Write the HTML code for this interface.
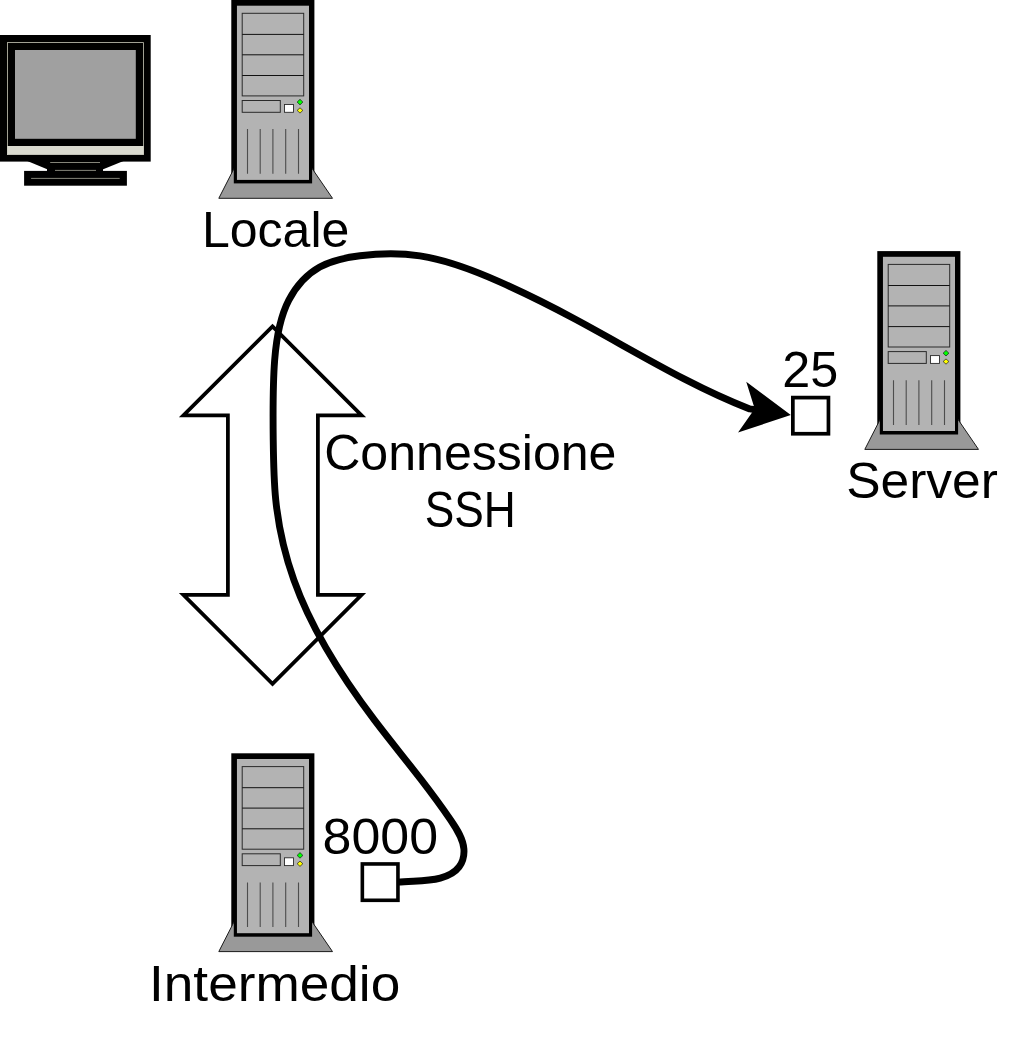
<!DOCTYPE html>
<html><head><meta charset="utf-8"><style>
html,body{margin:0;padding:0;background:#fff;width:1024px;height:1038px;overflow:hidden}
svg{display:block;will-change:transform}
text{font-family:"Liberation Sans",sans-serif;fill:#000}
</style></head><body>
<svg width="1024" height="1038" viewBox="0 0 1024 1038">

<rect x="-5" y="35" width="155.7" height="126.6" fill="#000"/>
<rect x="7.4" y="42.6" width="136" height="112" fill="#000" stroke="#c8c8b8" stroke-width="0.8"/>
<rect x="7.2" y="146" width="136.5" height="8.6" fill="#dadacf"/>
<rect x="15" y="50" width="120.8" height="88.8" fill="#a0a0a0"/>
<polygon points="27.3,161 123.5,161 102.6,169.4 47.8,169.4" fill="#000"/>
<rect x="47" y="161" width="56" height="10.5" fill="#000"/>
<rect x="24.1" y="170.9" width="102.8" height="14.8" fill="#000"/>
<path d="M50.2,162.5H100M55,170.4H96M31.1,178.4H119.7" stroke="#bdbdae" stroke-width="0.7"/>
<g>

<rect x="231.3" y="0" width="83.1" height="174" fill="#000"/>
<polygon points="218.8,198.3 234.2,168.2 311.9,168.2 332.5,198.3" fill="#999" stroke="#1a1a1a" stroke-width="1"/>
<rect x="233.8" y="165" width="78.3" height="18.4" fill="#000"/>
<rect x="236.95" y="5.7" width="72.05" height="174.2" fill="#b3b3b3"/>
<rect x="242.2" y="13.3" width="61.5" height="82.6" fill="none" stroke="#2a2a2a" stroke-width="1"/>
<path d="M242.2,34.4H303.7M242.2,54.8H303.7M242.2,75.5H303.7" stroke="#111" stroke-width="1"/>
<rect x="242.2" y="100.5" width="38.1" height="11.8" fill="none" stroke="#2a2a2a" stroke-width="1"/>
<rect x="284.5" y="104.5" width="9" height="7.8" fill="#fff" stroke="#2a2a2a" stroke-width="0.9"/>
<path d="M300,99.3L302.9,102.1L300,104.9L297.1,102.1Z" fill="#00ff00" stroke="#1a1a1a" stroke-width="0.7"/>
<path d="M300,107.8L302.9,110.4L300,113.1L297.1,110.4Z" fill="#ffff00" stroke="#1a1a1a" stroke-width="0.7"/>
<path d="M247.5,129.1V173.8M260.2,129.1V173.8M272.9,129.1V173.8M285.7,129.1V173.8M298.5,129.1V173.8" stroke="#4d4d4d" stroke-width="1.1"/>
</g>
<g transform="translate(646,251.1)">

<rect x="231.3" y="0" width="83.1" height="174" fill="#000"/>
<polygon points="218.8,198.3 234.2,168.2 311.9,168.2 332.5,198.3" fill="#999" stroke="#1a1a1a" stroke-width="1"/>
<rect x="233.8" y="165" width="78.3" height="18.4" fill="#000"/>
<rect x="236.95" y="5.7" width="72.05" height="174.2" fill="#b3b3b3"/>
<rect x="242.2" y="13.3" width="61.5" height="82.6" fill="none" stroke="#2a2a2a" stroke-width="1"/>
<path d="M242.2,34.4H303.7M242.2,54.8H303.7M242.2,75.5H303.7" stroke="#111" stroke-width="1"/>
<rect x="242.2" y="100.5" width="38.1" height="11.8" fill="none" stroke="#2a2a2a" stroke-width="1"/>
<rect x="284.5" y="104.5" width="9" height="7.8" fill="#fff" stroke="#2a2a2a" stroke-width="0.9"/>
<path d="M300,99.3L302.9,102.1L300,104.9L297.1,102.1Z" fill="#00ff00" stroke="#1a1a1a" stroke-width="0.7"/>
<path d="M300,107.8L302.9,110.4L300,113.1L297.1,110.4Z" fill="#ffff00" stroke="#1a1a1a" stroke-width="0.7"/>
<path d="M247.5,129.1V173.8M260.2,129.1V173.8M272.9,129.1V173.8M285.7,129.1V173.8M298.5,129.1V173.8" stroke="#4d4d4d" stroke-width="1.1"/>
</g>
<g transform="translate(0,753.3)">

<rect x="231.3" y="0" width="83.1" height="174" fill="#000"/>
<polygon points="218.8,198.3 234.2,168.2 311.9,168.2 332.5,198.3" fill="#999" stroke="#1a1a1a" stroke-width="1"/>
<rect x="233.8" y="165" width="78.3" height="18.4" fill="#000"/>
<rect x="236.95" y="5.7" width="72.05" height="174.2" fill="#b3b3b3"/>
<rect x="242.2" y="13.3" width="61.5" height="82.6" fill="none" stroke="#2a2a2a" stroke-width="1"/>
<path d="M242.2,34.4H303.7M242.2,54.8H303.7M242.2,75.5H303.7" stroke="#111" stroke-width="1"/>
<rect x="242.2" y="100.5" width="38.1" height="11.8" fill="none" stroke="#2a2a2a" stroke-width="1"/>
<rect x="284.5" y="104.5" width="9" height="7.8" fill="#fff" stroke="#2a2a2a" stroke-width="0.9"/>
<path d="M300,99.3L302.9,102.1L300,104.9L297.1,102.1Z" fill="#00ff00" stroke="#1a1a1a" stroke-width="0.7"/>
<path d="M300,107.8L302.9,110.4L300,113.1L297.1,110.4Z" fill="#ffff00" stroke="#1a1a1a" stroke-width="0.7"/>
<path d="M247.5,129.1V173.8M260.2,129.1V173.8M272.9,129.1V173.8M285.7,129.1V173.8M298.5,129.1V173.8" stroke="#4d4d4d" stroke-width="1.1"/>
</g>
<polygon points="272.5,326.35 361.6,415.45 317.9,415.45 317.9,594.85 361.6,594.85 272.5,683.95 183.4,594.85 227.9,594.85 227.9,415.45 183.4,415.45" fill="#fff" stroke="#000" stroke-width="3.75" stroke-miterlimit="10"/>
<rect x="792.85" y="397.6" width="35.6" height="36.15" fill="#fff" stroke="#000" stroke-width="3.7"/>
<rect x="362.35" y="863.95" width="35.6" height="36.35" fill="#fff" stroke="#000" stroke-width="3.6"/>
<path d="M 397.60,882.13 C 411.21,880.49 426.15,882.03 440.26,878.18 C 447.65,876.16 454.81,872.66 459.09,866.94 C 462.81,861.98 464.36,855.35 463.90,849.04 C 463.14,838.64 456.89,829.11 450.63,819.99 C 440.91,805.85 431.17,792.70 421.13,779.68 C 405.89,759.92 389.97,740.47 374.71,720.38 C 341.88,677.20 312.07,631.08 293.94,580.18 C 284.75,554.37 278.56,527.33 275.76,499.99 C 273.72,480.05 273.48,459.95 273.24,439.95 C 272.91,413.30 272.59,386.83 274.67,360.04 C 276.27,339.35 279.30,318.47 288.82,300.19 C 295.91,286.58 306.59,274.41 319.79,267.02 C 331.80,260.29 345.91,257.51 359.98,255.78 C 380.19,253.30 400.34,252.97 419.99,255.90 C 447.47,260.00 473.98,270.45 499.69,281.91 C 525.53,293.42 550.57,305.95 575.34,319.25 C 632.86,350.14 688.94,385.20 749.77,408.94 L 772,412.3" fill="none" stroke="#000" stroke-width="6.9" stroke-linecap="butt" stroke-linejoin="round"/>
<path d="M790.8,415.1 L746.25,381.7 L754.7,408.7 L738.05,432.5 Z" fill="#000"/>
<text x="201.92" y="246.50" font-size="49.5" textLength="147.49" lengthAdjust="spacingAndGlyphs">Locale</text>
<text x="846.26" y="497.50" font-size="49.5" textLength="151.58" lengthAdjust="spacingAndGlyphs">Server</text>
<text x="149.03" y="1000.50" font-size="49.5" textLength="251.20" lengthAdjust="spacingAndGlyphs">Intermedio</text>
<text x="324.22" y="470.00" font-size="49.5" textLength="292.20" lengthAdjust="spacingAndGlyphs">Connessione</text>
<text x="424.69" y="526.50" font-size="49.5" textLength="91.00" lengthAdjust="spacingAndGlyphs">SSH</text>
<text x="782.31" y="387.00" font-size="49.5" textLength="55.99" lengthAdjust="spacingAndGlyphs">25</text>
<text x="322.58" y="853.50" font-size="49.5" textLength="115.46" lengthAdjust="spacingAndGlyphs">8000</text>
</svg>
</body></html>
